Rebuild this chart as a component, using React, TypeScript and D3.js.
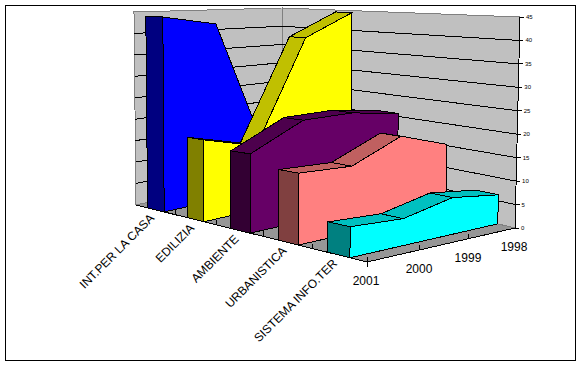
import React from "react";
import * as d3 from "d3";

const categories = ["INT.PER LA CASA", "EDILIZIA", "AMBIENTE", "URBANISTICA", "SISTEMA INFO.TER"];
const years = ["2001", "2000", "1999", "1998"];
const yTicks = [0, 5, 10, 15, 20, 25, 30, 35, 40, 45];

const intPerLaCasa = [44, 42, 10, 8];
const edilizia = [17.7, 14.6, 38.7, 44.5];
const ambiente = [16.3, 21.9, 22.2, 20.7];
const urbanistica = [14.1, 13.8, 18.6, 15.3];
const sistemaInfoTer = [5.8, 5.3, 7.6, 6.3];
const seriesValues = [intPerLaCasa, edilizia, ambiente, urbanistica, sistemaInfoTer];

const lightColors = ["#0000ff", "#ffff00", "#660066", "#ff8080", "#00ffff"];
const darkColors = ["#000080", "#808000", "#330033", "#804040", "#008080"];
const topColors = ["#0000c0", "#c0c000", "#4d004d", "#c06060", "#00c0c0"];

// layout of the oblique 3D box, as fractions along the front edge and the depth axis
const bandStart = [0.05, 0.225, 0.411, 0.615, 0.83];
const bandEnd = [0.122, 0.294, 0.494, 0.703, 0.926];
const bandEdges = [0.171, 0.35, 0.55, 0.766, 1];
const depthFrac = d3.scaleOrdinal<string, number>().domain(years).range([0, 0.358, 0.689, 1]);

const lerp = (a: number, b: number, t: number) => a + (b - a) * t;
const bil = (fl: number, fr: number, bl: number, br: number, f: number, d: number) =>
  lerp(lerp(fl, fr, f), lerp(bl, br, f), d);

const vScale = d3.scaleLinear().domain([0, 45]).range([0, 1]);

function P(f: number, d: number, v: number): [number, number] {
  const t = vScale(v);
  const x = bil(136, 367, 282, 515, f, d) + t * bil(-2, 3, 0, 5, f, d);
  const y = bil(205, 262, 172, 228, f, d) - t * bil(193, 245, 164, 211, f, d);
  return [x, y];
}
const pts = (a: [number, number][]) => a.map((p) => p.join(",")).join(" ");
const line = d3.line();

export default function App() {
  const ds = years.map((y) => depthFrac(y));
  const wallL = pts([P(0, 0, 0), P(0, 0, 45), P(0, 1, 45), P(0, 1, 0)]);
  const wallB = pts([P(0, 1, 0), P(0, 1, 45), P(1, 1, 45), P(1, 1, 0)]);
  const floor = pts([P(0, 0, 0), P(1, 0, 0), P(1, 1, 0), P(0, 1, 0)]);

  return (
    <div style={{ position: "fixed", left: 0, top: 0 }}>
      <svg width={582} height={366} style={{ display: "block", background: "#fff" }}
        fontFamily="'Liberation Sans', Arial, sans-serif">
        <rect x={5.5} y={5.5} width={570} height={355} fill="#fff" stroke="#000" />
        <g shapeRendering="crispEdges">
          <polygon points={wallL} fill="#c0c0c0" stroke="#808080" />
          <polygon points={wallB} fill="#c0c0c0" stroke="#808080" />
          <polygon points={floor} fill="#969696" stroke="#808080" />
          {yTicks.slice(1, -1).map((v) => (
            <g key={v}>
              <path d={line([P(0, 0, v), P(0, 1, v), P(1, 1, v)]) ?? ""} fill="none" stroke="#000" />
            </g>
          ))}
          <path d={line([P(1, 1, 0), P(1, 1, 45)]) ?? ""} stroke="#000" />
          <path d={line([P(0, 0, 0), P(1, 0, 0), P(1, 1, 0)]) ?? ""} fill="none" stroke="#000" />
          {bandEdges.map((f, i) => {
            const a = P(f, 0, 0);
            return <path key={i} d={line([[a[0], a[1] - 5], [a[0], a[1] + (i === 4 ? 5 : 0)]]) ?? ""} stroke="#000" />;
          })}
          {ds.slice(1).map((d, i) => {
            const a = P(1, d, 0);
            return <path key={i} d={line([[a[0], a[1]], [a[0], a[1] - 5]]) ?? ""} stroke="#000" />;
          })}
        </g>

        <g shapeRendering="crispEdges" stroke="#000" strokeLinejoin="miter">
          {seriesValues.map((vals, i) => {
            const s = bandStart[i];
            const e = bandEnd[i];
            const right: [number, number][] = [
              ...ds.map((d, k) => P(e, d, vals[k])),
              P(e, 1, 0),
              P(e, 0, 0),
            ];
            return (
              <g key={categories[i]}>
                {ds.slice(0, -1).map((d, k) => (
                  <polygon key={k} fill={topColors[i]}
                    points={pts([P(s, d, vals[k]), P(e, d, vals[k]), P(e, ds[k + 1], vals[k + 1]), P(s, ds[k + 1], vals[k + 1])])} />
                ))}
                <polygon points={pts(right)} fill={lightColors[i]} />
                <polygon fill={darkColors[i]}
                  points={pts([P(s, 0, vals[0]), P(e, 0, vals[0]), P(e, 0, 0), P(s, 0, 0)])} />
              </g>
            );
          })}
        </g>

        {yTicks.map((v) => {
          const a = P(1, 1, v);
          return (
            <g key={v}>
              <path d={line([[a[0], a[1]], [a[0] + 4, a[1]]]) ?? ""} stroke="#000" shapeRendering="crispEdges" />
              <text x={a[0] + 6} y={a[1] + 2} fontSize={6}>{v}</text>
            </g>
          );
        })}
        {years.map((y) => {
          const a = P(1, depthFrac(y), 0);
          return <text key={y} x={a[0] - 1} y={a[1] + 23} fontSize={12} textAnchor="middle">{y}</text>;
        })}
        {categories.map((c, i) => {
          const f = (bandStart[i] + bandEnd[i]) / 2;
          const a = P(f, 0, 0);
          return (
            <text key={c} fontSize={12} textAnchor="end"
              transform={`translate(${a[0] - 1},${a[1] + 9}) rotate(-45)`}>{c}</text>
          );
        })}
      </svg>
    </div>
  );
}
